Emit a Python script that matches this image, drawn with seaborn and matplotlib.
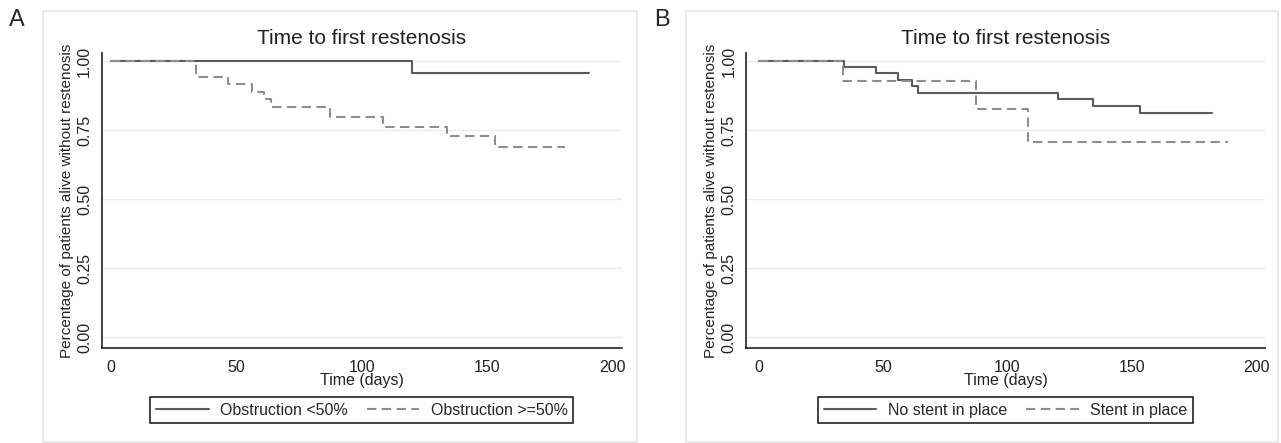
import pandas as pd
import matplotlib
matplotlib.use("Agg")
import matplotlib.pyplot as plt
from matplotlib.patches import Rectangle
import seaborn as sns

# === 1. Data ===
a_solid_t = [0, 120.1, 190.6]
a_solid_s = [1.0, 0.955, 0.955]
a_dash_t = [0, 33.8, 46.6, 56.0, 60.9, 63.8, 87.3, 108.3, 133.9, 153.0, 181.0]
a_dash_s = [1.0, 0.944, 0.917, 0.889, 0.861, 0.833, 0.796, 0.762, 0.727, 0.690, 0.690]

b_solid_t = [0, 34.5, 47.2, 56.1, 61.5, 64.2, 120.3, 134.3, 153.5, 182.4]
b_solid_s = [1.0, 0.977, 0.955, 0.932, 0.909, 0.886, 0.861, 0.838, 0.811, 0.811]
b_dash_t = [0, 34.1, 87.3, 108.1, 188.6]
b_dash_s = [1.0, 0.929, 0.827, 0.707, 0.707]

a_groups = ["Obstruction <50%", "Obstruction >=50%"]
b_groups = ["No stent in place", "Stent in place"]

title = "Time to first restenosis"
ylabel = "Percentage of patients alive without restenosis"
xlabel = "Time (days)"
xticks = [0, 50, 100, 150, 200]
yticks = [0.0, 0.25, 0.50, 0.75, 1.00]


def long_df(groups, t1, s1, t2, s2):
    d1 = pd.DataFrame({"t": t1, "s": s1, "group": groups[0]})
    d2 = pd.DataFrame({"t": t2, "s": s2, "group": groups[1]})
    return pd.concat([d1, d2], ignore_index=True)


df_a = long_df(a_groups, a_solid_t, a_solid_s, a_dash_t, a_dash_s)
df_b = long_df(b_groups, b_solid_t, b_solid_s, b_dash_t, b_dash_s)

# === 2. Style ===
sns.set_style("white")
plt.rcParams["font.family"] = ["Liberation Sans", "DejaVu Sans"]

W, H = 1281, 443
fig = plt.figure(figsize=(W / 100, H / 100), dpi=100)


def fx(px):
    return px / W


def fy(py):
    return 1 - py / H


# panel frames (light grey boxes like Stata graph regions)
for x0, x1 in [(42.7, 636.7), (685.7, 1278)]:
    fig.add_artist(Rectangle((fx(x0), fy(441.7)), fx(x1 - x0), (441.7 - 10.7) / H,
                             transform=fig.transFigure, fill=False,
                             edgecolor="#e6e6e6", lw=1.2))

fig.text(fx(17), fy(20), "A", ha="center", va="center", fontsize=17)
fig.text(fx(662), fy(20), "B", ha="center", va="center", fontsize=17)

panels = [
    (df_a, a_groups, 101.7, 621.7, (-3.75, 203.6)),
    (df_b, b_groups, 746.0, 1265.0, (-5.1, 203.6)),
]

for df, groups, left, right, xlim in panels:
    ax = fig.add_axes([fx(left), fy(347.7), fx(right - left), (347.7 - 53.3) / H])
    sns.lineplot(data=df, x="t", y="s", hue="group", style="group",
                 hue_order=groups, style_order=groups,
                 palette=["#5a5a5a", "#8e8e8e"], dashes=["", (4.5, 2.6)],
                 drawstyle="steps-post", estimator=None, sort=False,
                 linewidth=1.5, ax=ax)
    ax.set_xlim(*xlim)
    ax.set_ylim(-0.0376, 1.028)
    ax.set_xticks(xticks)
    ax.set_yticks(yticks)
    ax.set_yticklabels([f"{v:.2f}" for v in yticks], rotation=90, va="center")
    for y in yticks:
        ax.axhline(y, color="#ececec", lw=1, zorder=0)
    for side in ["top", "right"]:
        ax.spines[side].set_visible(False)
    for side in ["left", "bottom"]:
        ax.spines[side].set_color("#222222")
        ax.spines[side].set_linewidth(1.2)
    ax.tick_params(axis="both", direction="out", length=4, width=1.1,
                   color="#222222", labelsize=11.5, labelcolor="#222222")
    ax.tick_params(axis="x", pad=4.5)
    ax.tick_params(axis="y", pad=3)
    ax.set_title(title, fontsize=15, color="#222222", pad=7)
    ax.set_xlabel(xlabel, fontsize=11.5, color="#222222", labelpad=-1)
    ax.set_ylabel(ylabel, fontsize=11, color="#222222", labelpad=2)

    handles, labels = ax.get_legend_handles_labels()
    ax.legend(handles, labels, loc="center", bbox_to_anchor=(0.5, -0.212),
              ncol=2, frameon=True, fancybox=False, edgecolor="#111111",
              framealpha=1, fontsize=11.5, handlelength=3.3, columnspacing=1.2,
              borderpad=0.35, handletextpad=0.7)
    ax.get_legend().get_frame().set_linewidth(1.1)

fig.savefig("out.png", dpi=100, facecolor="white")
